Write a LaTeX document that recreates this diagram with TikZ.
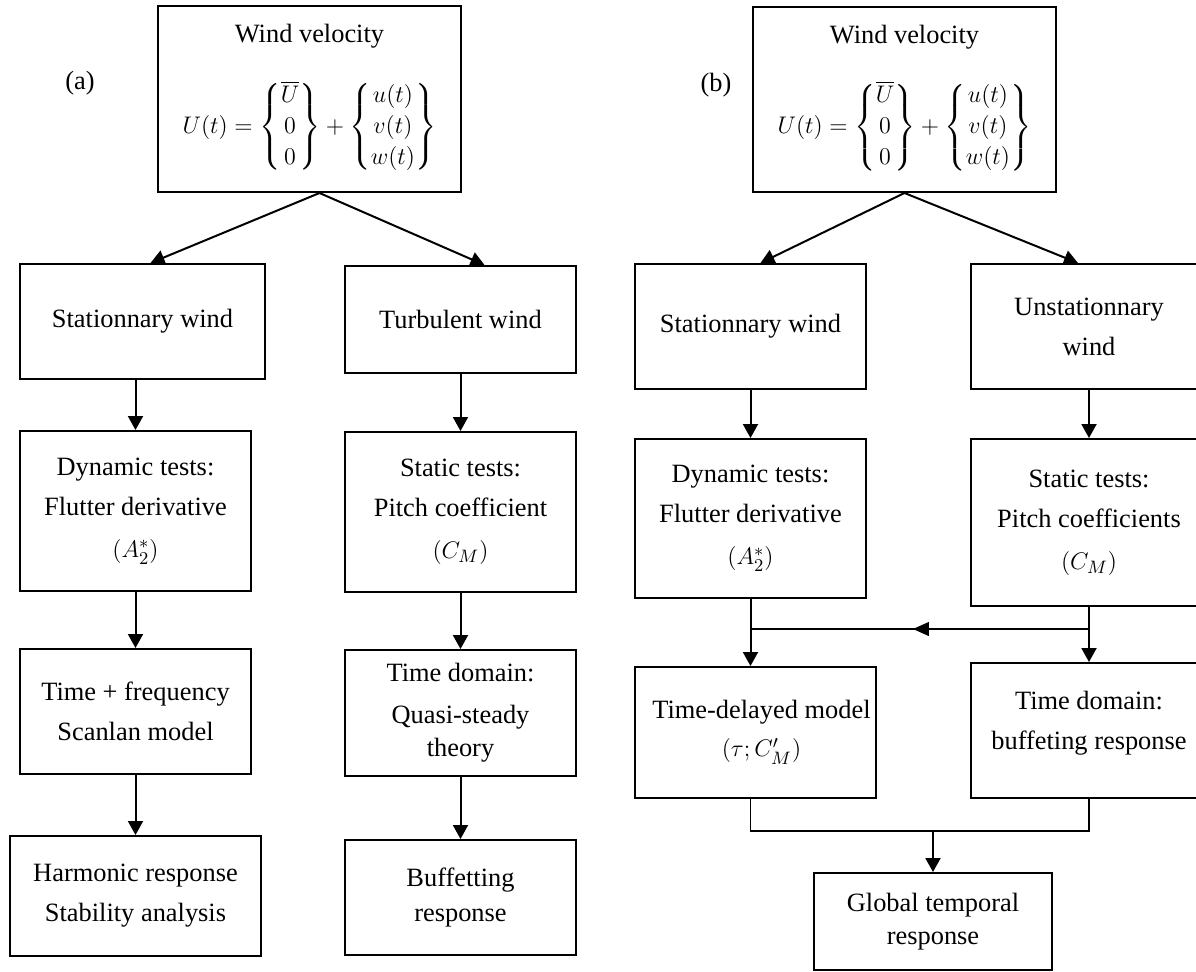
\documentclass[tikz,border=0pt]{standalone}
\usepackage{amsmath}
\usepackage{fontspec}
\setmainfont{Liberation Serif}
\usetikzlibrary{arrows.meta,calc}
\newcommand\boxfont{\fontsize{13.2}{20}\selectfont}
\begin{document}
\begin{tikzpicture}[x=0.5pt,y=-0.5pt,
  box/.style={draw, line width=1pt, inner sep=0pt, align=center, font=\boxfont},
  arr/.style={line width=1pt, -{Triangle[length=7pt,width=7.5pt]}},
  thinl/.style={line width=0.6pt},
  thinarr/.style={line width=0.6pt, -{Triangle[length=8pt,width=7pt]}},
  lab/.style={font=\boxfont, inner sep=0pt}]
\useasboundingbox (0,0) rectangle (1196,971);
\fill[white] (0,0) rectangle (1196,971);

% ---------- panel (a) ----------
\node[lab] (la) at (80,83) {(a)};
\node[box, minimum width=151.5pt, minimum height=93pt] (topA) at (309.5,99)
  {Wind velocity\\[15pt]$\def\arraystretch{0.78}U(t)=\begin{Bmatrix}\overline{U}\\0\\0\end{Bmatrix}+\begin{Bmatrix}u(t)\\v(t)\\w(t)\end{Bmatrix}$};
\node[box, minimum width=122.5pt, minimum height=57.5pt] (statA) at (142.5,321.5) {Stationnary wind};
\node[box, minimum width=115.5pt, minimum height=53.5pt] (turbA) at (460.5,319.5) {Turbulent wind};
\node[box, minimum width=115.5pt, minimum height=80pt] (dynA) at (135.5,511) {Dynamic tests:\\Flutter derivative\\[1pt]$(A_2^*)$};
\node[box, minimum width=115.5pt, minimum height=80pt] (statcA) at (460.5,512) {Static tests:\\Pitch coefficient\\[1pt]$(C_M)$};
\node[box, minimum width=115.5pt, minimum height=62.5pt] (tfA) at (135.5,711.5) {Time + frequency\\Scanlan model};
\node[box, minimum width=115.5pt, minimum height=63pt] (tdA) at (460.5,713) {Time domain:\\[1pt]Quasi-steady\\[-3.5pt]theory};
\node[box, minimum width=125.5pt, minimum height=60pt] (harmA) at (135.5,896) {Harmonic response\\Stability analysis};
\node[box, minimum width=115.5pt, minimum height=57.5pt] (bufA) at (460.5,897.5) {Buffetting\\[-2.5pt]response};

\draw[arr] ([xshift=5pt]topA.south) -- ([xshift=4pt]statA.north);
\draw[arr] ([xshift=5pt]topA.south) -- ([xshift=12pt]turbA.north);
\draw[arr] (statA.south -| dynA.north) -- (dynA.north);
\draw[arr] (dynA.south) -- (tfA.north);
\draw[arr] (tfA.south) -- (harmA.north);
\draw[arr] (turbA.south) -- (statcA.north);
\draw[arr] (statcA.south) -- (tdA.north);
\draw[arr] (tdA.south) -- (bufA.north);

% ---------- panel (b) ----------
\node[lab] (lb) at (716,85) {(b)};
\node[box, minimum width=151.5pt, minimum height=92.5pt] (topB) at (904.5,99.5)
  {Wind velocity\\[15pt]$\def\arraystretch{0.78}U(t)=\begin{Bmatrix}\overline{U}\\0\\0\end{Bmatrix}+\begin{Bmatrix}u(t)\\v(t)\\w(t)\end{Bmatrix}$};
\node[box, minimum width=115.5pt, minimum height=62.5pt] (statB) at (750.5,326.5) {Stationnary wind};
\node[box, minimum width=118pt, minimum height=62.5pt] (unstB) at (1089,326.5) {Unstationnary\\wind};
\node[box, minimum width=115.5pt, minimum height=79.5pt] (dynB) at (750.5,518.5) {Dynamic tests:\\Flutter derivative\\[1pt]$(A_2^*)$};
\node[box, minimum width=118pt, minimum height=83.5pt] (statcB) at (1089,522.5) {Static tests:\\Pitch coefficients\\[1pt]$(C_M)$};
\node[box, minimum width=120.5pt, minimum height=65.5pt] (delB) at (755.5,732.5) {\hspace*{6pt}Time-delayed model\\[-1pt]\hspace*{6pt}$(\tau;C_M')$};
\node[box, minimum width=118pt, minimum height=67.5pt] (tdB) at (1089,730.5) {Time domain:\\buffeting response\\[-10pt]\mbox{}};
\node[box, minimum width=119pt, minimum height=48.5pt] (glob) at (933,921.5) {Global temporal\\[-3.5pt]response};

\draw[arr] (topB.south) -- ([xshift=5pt]statB.north);
\draw[arr] (topB.south) -- ([xshift=-5.5pt]unstB.north);
\draw[arr] (statB.south) -- (dynB.north);
\draw[arr] (dynB.south) -- (dynB.south |- delB.north);
\draw[arr] (unstB.south) -- (statcB.north);
\draw[arr] (statcB.south) -- (tdB.north);

\coordinate (fbR) at ([yshift=-11pt]statcB.south);
\coordinate (fbL) at (fbR -| dynB.south);
\draw[thinl] (fbR) -- (fbL);
\draw[thinarr] (fbR) -- ($(fbR)!0.52!(fbL)$);

\coordinate (jL0) at (dynB.south |- delB.south);
\coordinate (jL) at ([yshift=-16pt]jL0);
\coordinate (jR) at (jL -| tdB.south);
\draw[thinl] (jL0) -- (jL) -- (jR) -- (tdB.south);
\draw[arr] (jL -| glob.north) -- (glob.north);
\end{tikzpicture}
\end{document}
